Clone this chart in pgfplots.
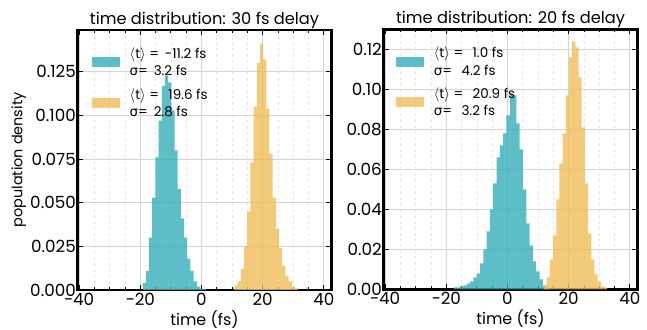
\documentclass[border=0pt]{standalone}
\usepackage{fontspec}
\setmainfont{Poppins}
\newfontfamily\gr{DejaVu Sans}
\usepackage{pgfplots}
\usepackage{pgfplotstable}
\pgfplotsset{compat=1.18}
\definecolor{cy}{RGB}{53,174,185}
\definecolor{og}{RGB}{240,188,89}

% left panel (30 fs delay): left bin edges and densities
\pgfplotstableread{
x y
-19.20 0.004
-18.16 0.011
-17.12 0.030
-16.08 0.053
-15.04 0.076
-14.00 0.097
-12.96 0.117
-11.92 0.123
-10.88 0.119
-9.84 0.103
-8.80 0.080
-7.76 0.058
-6.72 0.041
-5.68 0.030
-4.64 0.018
-3.60 0.011
-2.56 0.005
-1.52 0.002
-0.48 0.001
0.56 0.0005
1.60 0
}\lcytab
\pgfplotstableread{
x y
10.80 0.0025
11.84 0.005
12.88 0.012
13.92 0.025
14.96 0.045
16.00 0.073
17.04 0.105
18.08 0.130
19.12 0.141
20.16 0.132
21.20 0.104
22.24 0.078
23.28 0.053
24.32 0.035
25.36 0.024
26.40 0.014
27.44 0.008
28.48 0.005
29.52 0.002
30.56 0.001
31.60 0
}\logtab
% right panel (20 fs delay)
\pgfplotstableread{
x y
-17.60 0.001
-16.52 0.001
-15.44 0.0015
-14.36 0.002
-13.28 0.003
-12.20 0.004
-11.12 0.006
-10.04 0.008
-8.96 0.013
-7.88 0.020
-6.80 0.029
-5.72 0.040
-4.64 0.053
-3.56 0.066
-2.48 0.072
-1.40 0.078
-0.32 0.087
0.76 0.098
1.84 0.097
2.92 0.083
4.00 0.070
5.08 0.050
6.16 0.033
7.24 0.022
8.32 0.014
9.40 0.009
10.48 0.005
11.56 0.002
12.64 0.001
13.72 0
}\rcytab
\pgfplotstableread{
x y
11.80 0.002
12.84 0.006
13.88 0.015
14.92 0.027
15.96 0.045
17.00 0.063
18.04 0.078
19.08 0.097
20.12 0.116
21.16 0.124
22.20 0.121
23.24 0.106
24.28 0.081
25.32 0.053
26.36 0.028
27.40 0.015
28.44 0.0075
29.48 0.004
30.52 0.0015
31.56 0.001
32.60 0
}\rogtab

\newcommand\legtxt[2]{\shortstack[l]{\strut #1\\\strut #2}}

\pgfplotsset{
  hstyle/.style={
    scale only axis, width=254bp, height=260bp,
    xmin=-40.5, xmax=42.5, ymin=0,
    xtick={-40,-20,0,20,40}, xticklabels={−40,−20,0,20,40},
    minor xtick={-35,-30,-25,-15,-10,-5,5,10,15,25,30,35},
    grid=both,
    major grid style={black!17, line width=0.8bp},
    minor grid style={black!9, dashed, line width=0.5bp},
    tick align=inside, tick pos=both,
    major tick length=5bp, minor tick length=3bp,
    every tick/.style={black, line width=0.8bp},
    axis line style={line width=2.6bp},
    ticklabel style={font=\fontsize{16.8}{17}\selectfont, inner sep=1.5bp},
    xticklabel style={yshift=-1.5bp},
    xlabel style={font=\fontsize{16}{17}\selectfont, yshift=0bp},
    ylabel style={font=\fontsize{14.5}{15}\selectfont, yshift=-1bp},
    title style={font=\fontsize{16.3}{16.5}\selectfont, yshift=-8bp},
    /pgf/number format/assume math mode=true,
    /pgf/number format/fixed, /pgf/number format/fixed zerofill,
    xlabel={time (fs)},
    legend image code/.code={\fill[##1,draw=none] (0bp,-5bp) rectangle (28bp,5bp);},
    legend style={draw=none, fill=none, anchor=north west, inner sep=0pt,
      font=\fontsize{13.5}{14}\selectfont, row sep=10bp, column sep=9bp,
      nodes={inner sep=0.5bp}},
    legend cell align=left,
  },
  hbar/.style={const plot, draw=none, fill=#1, fill opacity=0.8},
}

\begin{document}
\begin{tikzpicture}
\useasboundingbox (0,0) rectangle (647bp,330bp);
\begin{axis}[hstyle, at={(77.5bp,40bp)}, anchor=south west,
  ymax=0.149, ytick={0,0.025,0.05,0.075,0.1,0.125},
  yticklabel style={/pgf/number format/precision=3},
  ylabel={population density},
  title={time distribution: 30 fs delay},
  legend style={at={(0.057,0.935)}}]
\addplot[hbar=cy] table[x=x,y=y] {\lcytab} \closedcycle;
\addlegendentry{\legtxt{$\langle$t$\rangle$ = \,-11.2 fs}{{\gr σ}= \,3.2 fs}}
\addplot[hbar=og] table[x=x,y=y] {\logtab} \closedcycle;
\addlegendentry{\legtxt{$\langle$t$\rangle$ = \ \,19.6 fs}{{\gr σ}= \,2.8 fs}}
\end{axis}
\begin{axis}[hstyle, at={(383.5bp,40.7bp)}, anchor=south west,
  ymax=0.13, ytick={0,0.02,0.04,0.06,0.08,0.1,0.12},
  yticklabel style={/pgf/number format/precision=2},
  title={time distribution: 20 fs delay},
  legend style={at={(0.05,0.935)}}]
\addplot[hbar=cy] table[x=x,y=y] {\rcytab} \closedcycle;
\addlegendentry{\legtxt{$\langle$t$\rangle$ = \ \,1.0 fs}{{\gr σ}= \ \,4.2 fs}}
\addplot[hbar=og] table[x=x,y=y] {\rogtab} \closedcycle;
\addlegendentry{\legtxt{$\langle$t$\rangle$ = \ \,20.9 fs}{{\gr σ}= \ \,3.2 fs}}
\end{axis}
\end{tikzpicture}
\end{document}
